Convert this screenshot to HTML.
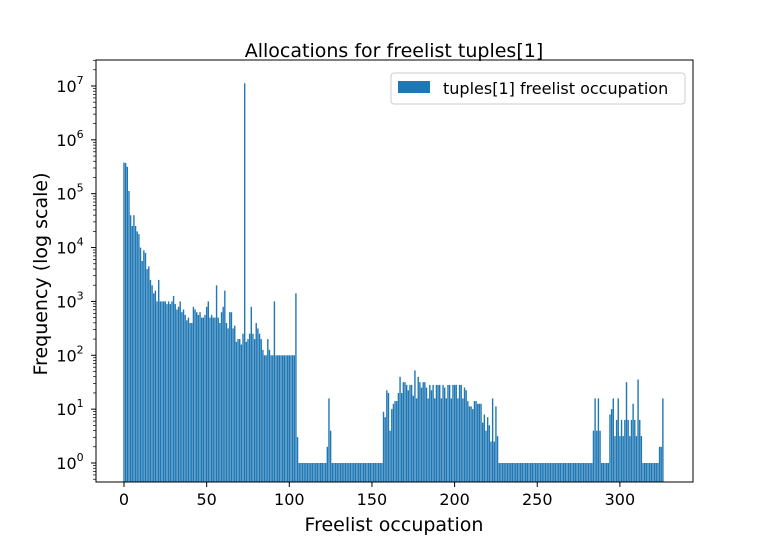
<!DOCTYPE html><html><head><style>body{margin:0;background:#fff}svg text{font-family:"DejaVu Sans",sans-serif}</style></head><body>
<svg id="s" width="770" height="542" xmlns="http://www.w3.org/2000/svg">
<rect width="770" height="542" fill="#fff"/>
<g id="bars" fill="#1f77b4"></g>
<rect x="96" y="60" width="597" height="422" fill="none" stroke="#000" stroke-width="1"/>
<g id="ticks" stroke="#000" stroke-width="1"></g>
<g id="lab" font-size="16" fill="#000"></g>
<text x="394" y="57" font-size="19" text-anchor="middle">Allocations for freelist tuples[1]</text>
<text x="394" y="531" font-size="19" text-anchor="middle">Freelist occupation</text>
<text transform="translate(47,274) rotate(-90)" font-size="19" text-anchor="middle">Frequency (log scale)</text>
<rect x="391" y="73" width="294" height="31" fill="#fff" stroke="#ccc" rx="3"/>
<rect x="398" y="81" width="32" height="12" fill="#1f77b4"/>
<text x="443" y="94" font-size="16">tuples[1] freelist occupation</text>
</svg>
<script>
var L=[5.58,5.57,5.5,5.05,4.6,4.4,4.6,4.4,4.3,4.25,4.0,3.75,3.95,3.9,3.6,3.65,3.4,3.3,3.15,3.2,3.0,3.4,3.0,3.0,3.0,3.0,2.95,3.0,2.95,3.0,3.1,2.95,2.85,2.9,3.0,2.8,2.85,2.75,2.65,2.7,2.6,2.6,2.9,2.85,2.8,2.75,2.8,2.7,2.7,2.75,2.9,3.0,2.7,2.75,2.7,2.7,3.3,2.7,2.6,2.8,2.9,3.2,2.6,2.5,2.8,2.8,2.5,2.55,2.25,2.3,2.3,2.2,2.4,7.05,2.25,2.3,2.4,2.9,2.4,2.3,2.6,2.5,2.4,2.3,2.1,2.0,2.0,2.3,2.1,2.0,2.0,3.0,2.0,2.0,2.0,2.0,2.0,2.0,2.0,2.0,2.0,2.0,2.0,2.0,3.15,0.48];
while(L.length<123)L.push(0);
L.push(0.3,1.2,0.6);while(L.length<157)L.push(0);
var mid=[0.95,0.85,1.35,1.3,0.6,1.0,1.1,1.15,1.15,1.3,1.6,1.3,1.5,1.5,1.45,1.35,1.45,1.45,1.25,1.72,1.2,1.6,1.5,1.4,1.5,1.5,1.4,1.2,1.45,1.35,1.45,1.2,1.45,1.45,1.45,1.2,1.45,1.4,1.2,1.45,1.45,1.2,1.45,1.45,1.45,1.2,1.45,1.45,1.2,1.4,1.35,1.15,1.05,1.05,1.0,1.15,1.15,1.1,1.1,1.1,0.75,0.9,0.6,0.85,0.7,0.4,1.2,0.4,1.05,0.5];
L=L.concat(mid);while(L.length<284)L.push(0);
L=L.concat([0.6,1.2,0.6,1.2,0.6,0,0,0,0,0,0.9,1.0,1.2,0.5,0.8,1.2,0.5,0.8,0.5,0.8,1.5,0.8,0.5,0.8,1.1,0.8,0.5,1.55,0.8,0.5,0,0,0,0,0,0,0,0,0,0,0.3,0.3,1.2]);
var b=document.getElementById('bars'),h='';
function Y(l){return 463-53.86*l}
for(var i=0;i<L.length;i++){var x=124+1.653*i-0.7,y=Y(L[i]);h+='<rect x="'+x.toFixed(2)+'" y="'+y.toFixed(1)+'" width="1.4" height="'+(482-y).toFixed(1)+'"/>';}
b.innerHTML=h;
var t='',lb='';
for(var v=0;v<=300;v+=50){var x=124+1.653*v;t+='<line x1="'+x+'" y1="482" x2="'+x+'" y2="487"/>';lb+='<text x="'+x+'" y="505" text-anchor="middle">'+v+'</text>';}
for(var e=-1;e<=7;e++){for(var m=1;m<10;m++){var l=e+Math.log10(m),y=Y(l);if(y<60||y>482)continue;
if(m==1){t+='<line x1="91" y1="'+y+'" x2="96" y2="'+y+'"/>';lb+='<text x="70" y="'+(y+6)+'" text-anchor="middle">10<tspan dy="-8" font-size="11">'+e+'</tspan></text>';}
else t+='<line x1="93" y1="'+y+'" x2="96" y2="'+y+'" stroke-width="0.7"/>';}}
document.getElementById('ticks').innerHTML=t;document.getElementById('lab').innerHTML=lb;
</script></body></html>
